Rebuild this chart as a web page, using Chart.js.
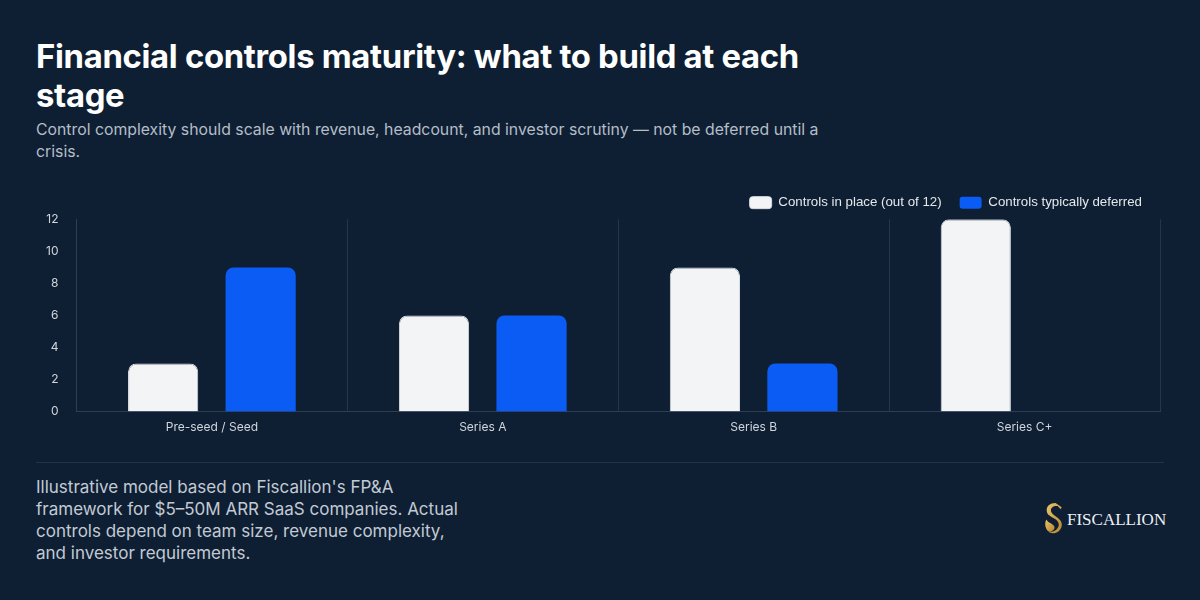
<!DOCTYPE html>
<html>
<head>
<meta charset="utf-8">
<script src="https://cdn.jsdelivr.net/npm/chart.js@4"></script>
<style>
  html, body { margin: 0; padding: 0; }
  body { width: 1200px; height: 600px; background: #0e1f33; position: relative; overflow: hidden; font-family: Inter, "Noto Sans", sans-serif; }
  h1 { position: absolute; left: 36px; top: 37px; width: 800px; margin: 0; font-size: 32.8px; line-height: 39px; font-weight: 700; color: #ffffff; letter-spacing: -0.3px; }
  .sub { position: absolute; left: 36px; top: 119px; width: 820px; margin: 0; font-size: 15.8px; line-height: 22px; color: #b4bdc8; }
  .chart-box { position: absolute; left: 36px; top: 178px; width: 1128px; height: 266px; }
  .divider { position: absolute; left: 36px; top: 462px; width: 1128px; height: 1px; background: #22344a; }
  .foot { position: absolute; left: 36px; top: 476px; width: 430px; margin: 0; font-size: 17px; line-height: 22px; color: #c3cad3; }
  .logo { position: absolute; left: 1043px; top: 502px; display: flex; align-items: center; }
  .logo span { font-family: "Liberation Serif", "DejaVu Serif", serif; font-size: 17px; color: #eceff3; margin-left: 3px; letter-spacing: 0px; }
</style>
</head>
<body>
<h1>Financial controls maturity: what to build at each stage</h1>
<p class="sub">Control complexity should scale with revenue, headcount, and investor scrutiny — not be deferred until a crisis.</p>
<div class="chart-box"><canvas id="maturityChart"></canvas></div>
<div class="divider"></div>
<p class="foot">Illustrative model based on Fiscallion's FP&amp;A framework for $5–50M ARR SaaS companies. Actual controls depend on team size, revenue complexity, and investor requirements.</p>
<div class="logo">
  <svg width="21" height="35" viewBox="0 0 20 34">
    <defs>
      <linearGradient id="gold" x1="0" y1="0" x2="1" y2="1">
        <stop offset="0" stop-color="#e9c46a"/>
        <stop offset="1" stop-color="#b8862f"/>
      </linearGradient>
    </defs>
    <path d="M12 1 C5 1 2 6 4 11 C6 15 14 16 15 21 C16 26 10 30 5 29 C9 32 17 30 18 23 C19 16 10 14 8 10 C6 6 10 3 14 4 L17 7 L18 5 Z" fill="url(#gold)"/>
    <path d="M3 17 C5 21 11 21 11 25 C11 27 8 29 6 29 C2 27 1 21 3 17 Z" fill="url(#gold)"/>
  </svg>
  <span>FISCALLION</span>
</div>
<script>
const stages = ['Pre-seed / Seed', 'Series A', 'Series B', 'Series C+'];
const controlsInPlace = [3, 6, 9, 12];
const controlsDeferred = [9, 6, 3, 0];
const yTicks = [0, 2, 4, 6, 8, 10, 12];

const ctx = document.getElementById('maturityChart');
new Chart(ctx, {
  type: 'bar',
  data: {
    labels: stages,
    datasets: [
      { label: 'Controls in place (out of 12)', data: controlsInPlace, backgroundColor: '#f3f4f6', borderColor: '#d9dde3', borderWidth: 1, borderRadius: 8, borderSkipped: 'bottom' },
      { label: 'Controls typically deferred', data: controlsDeferred, backgroundColor: '#0a5cf5', borderRadius: 8, borderSkipped: 'bottom' }
    ]
  },
  options: {
    responsive: true,
    maintainAspectRatio: false,
    animation: false,
    datasets: { bar: { categoryPercentage: 0.72, barPercentage: 0.72 } },
    layout: { padding: { left: 0, right: 4, top: 0, bottom: 0 } },
    plugins: {
      legend: {
        position: 'top',
        align: 'end',
        labels: { color: '#e5e7eb', font: { size: 13.3 }, boxWidth: 22, boxHeight: 12, useBorderRadius: true, borderRadius: 3, padding: 18 }
      },
      tooltip: { enabled: false }
    },
    scales: {
      x: {
        grid: { display: true, color: '#24364b', drawTicks: false },
        border: { display: true, color: '#2e3f54' },
        ticks: { color: '#d1d5db', font: { size: 12, family: 'Inter' }, padding: 9 }
      },
      y: {
        min: 0, max: 12,
        afterBuildTicks: axis => { axis.ticks = yTicks.map(v => ({ value: v })); },
        grid: { display: false },
        border: { display: true, color: '#2e3f54' },
        ticks: { color: '#d1d5db', font: { size: 12, family: 'Inter' }, padding: 10 }
      }
    }
  }
});
</script>
</body>
</html>
